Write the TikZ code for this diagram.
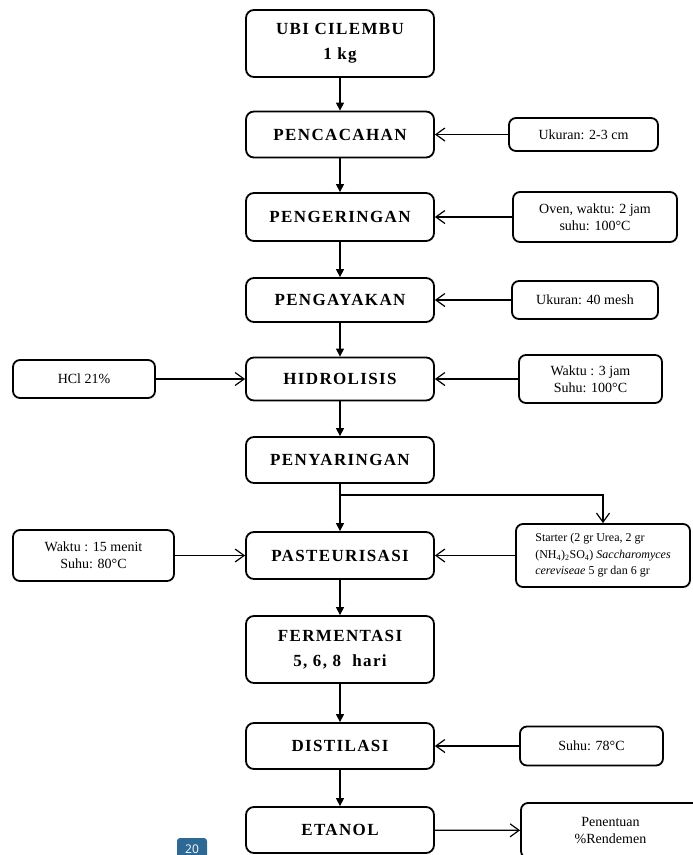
\documentclass[tikz,border=0pt]{standalone}
\usepackage{fontspec}
\setmainfont{Liberation Serif}
\newfontfamily\stepfont{Liberation Serif}[LetterSpace=8]
\newfontfamily\badgefont{Open Sans}
\usetikzlibrary{arrows.meta}
\definecolor{badgeblue}{RGB}{46,104,148}

\begin{document}
\begin{tikzpicture}[x=1pt,y=-1pt]
        \tikzstyle{every node}=[font=\fontsize{14}{17}\selectfont]
        \tikzstyle{stepbox}=[draw, line width=1.8pt, rounded corners=8pt, minimum width=188pt, minimum height=46pt, inner sep=0pt, align=center, font=\stepfont\bfseries\fontsize{17}{25}\selectfont]
        \tikzstyle{infobox}=[draw, line width=1.8pt, rounded corners=7pt, inner sep=0pt, align=center]
        \tikzstyle{flow}=[line width=1.2pt, -{Triangle[length=8pt,width=8pt]}]
        \tikzstyle{feed}=[line width=1.2pt, -{Straight Barb[length=9pt,width=13pt]}]
        \useasboundingbox (0,0) rectangle (693,855);

        % main process column
        \node[stepbox, minimum height=67pt] (ubi) at (340,43.5) {UBI CILEMBU\\1 kg};
        \node[stepbox] (cacah) at (340,134.5) {PENCACAHAN};
        \node[stepbox, minimum height=48pt] (kering) at (340,217) {PENGERINGAN};
        \node[stepbox, minimum height=44pt] (ayak) at (340,300) {PENGAYAKAN};
        \node[stepbox, minimum height=43pt] (hidro) at (340,379) {HIDROLISIS};
        \node[stepbox] (saring) at (340,460) {PENYARINGAN};
        \node[stepbox, minimum height=47pt] (pasteur) at (340,555.5) {PASTEURISASI};
        \node[stepbox, minimum height=67pt] (ferment) at (340,649.5) {FERMENTASI\\5, 6, 8 \ hari};
        \node[stepbox] (distil) at (340,746) {DISTILASI};
        \node[stepbox] (etanol) at (340,830) {ETANOL};

        % conditions
        \node[infobox, minimum width=149pt, minimum height=33pt] (ukuran) at (583.5,134.5) {Ukuran: 2-3 cm};
        \node[infobox, minimum width=164pt, minimum height=50pt] (oven) at (595,217) {Oven, waktu: 2 jam\\suhu: 100°C};
        \node[infobox, minimum width=146pt, minimum height=38pt] (mesh) at (585,300) {Ukuran: 40 mesh};
        \node[infobox, minimum width=142pt, minimum height=38pt] (hcl) at (84,379) {HCl 21\%};
        \node[infobox, minimum width=143pt, minimum height=48pt] (waktuh) at (590.5,379) {Waktu : 3 jam\\Suhu: 100°C};
        \node[infobox, minimum width=161pt, minimum height=51pt] (waktup) at (93.5,555.5) {Waktu : 15 menit\\Suhu: 80°C};
        \node[infobox, minimum width=174pt, minimum height=63pt, align=left, font=\fontsize{12}{16.5}\selectfont] (starter) at (603,555.5) {Starter (2 gr Urea, 2 gr\\(NH\textsubscript{4})\textsubscript{2}SO\textsubscript{4}) \textit{Saccharomyces}\\\textit{cereviseae} 5 gr dan 6 gr};
        \node[infobox, minimum width=143pt, minimum height=39pt] (suhu) at (591.5,746) {Suhu: 78°C};
        \node[infobox, minimum width=179pt, minimum height=55pt] (rendemen) at (610.5,830.5) {Penentuan\\\%Rendemen};

        % page badge
        \node[fill=badgeblue, rounded corners=3pt, text=white, minimum width=30pt, minimum height=22pt, inner sep=0pt, font=\badgefont\fontsize{12}{12}\selectfont] (page) at (192,849) {20};

        % arrows down the column
        \draw[flow] (ubi) -- (cacah);
        \draw[flow] (cacah) -- (kering);
        \draw[flow] (kering) -- (ayak);
        \draw[flow] (ayak) -- (hidro);
        \draw[flow] (hidro) -- (saring);
        \draw[flow] (saring) -- (pasteur);
        \draw[flow] (pasteur) -- (ferment);
        \draw[flow] (ferment) -- (distil);
        \draw[flow] (distil) -- (etanol);

        % side inputs
        \draw[feed] (ukuran) -- (cacah);
        \draw[feed] (oven) -- (kering);
        \draw[feed] (mesh) -- (ayak);
        \draw[feed] (hcl) -- (hidro);
        \draw[feed] (waktuh) -- (hidro);
        \draw[feed] (waktup) -- (pasteur);
        \draw[feed] (starter) -- (pasteur);
        \draw[feed] (suhu) -- (distil);
        \draw[feed] (etanol) -- (rendemen);

        % branch to the starter
        \coordinate (split) at (340,495);
        \draw[feed] (split) -| (starter);
    \end{tikzpicture}
\end{document}
